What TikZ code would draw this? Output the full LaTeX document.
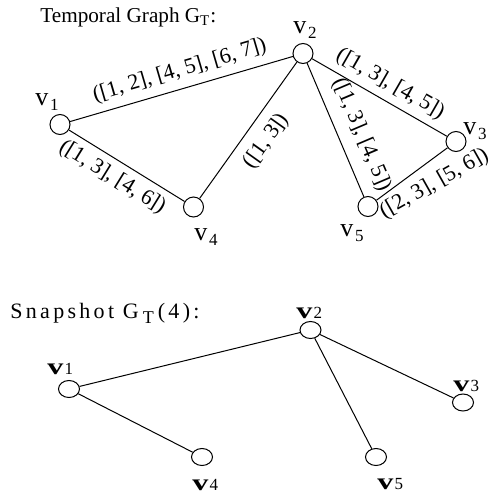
\documentclass[tikz,border=0pt]{standalone}
\usepackage{fontspec}
\setmainfont{Liberation Serif}
\usetikzlibrary{shapes.geometric,positioning}

% temporal vertex label: v with a lowered index
\newcommand{\tempv}[1]{v\kern0.8pt\raisebox{-2.5pt}{\fontsize{8.5}{9}\selectfont #1}}
% snapshot vertex label: wide bold v and a small index
\newcommand{\snapv}[1]{\scalebox{1.4}[1]{\bfseries v}\kern0.6pt{\fontsize{8.5}{9}\selectfont #1}}

\begin{document}
\begin{tikzpicture}[x=0.5pt, y=-0.5pt,
    vtx/.style={circle, draw, line width=0.5pt, minimum size=10pt, inner sep=0pt},
    snapvtx/.style={ellipse, draw, line width=0.5pt, minimum width=10.5pt, minimum height=8.5pt, inner sep=0pt},
    vlab/.style={font=\fontsize{13}{15}\selectfont, inner sep=0pt, anchor=base west},
    slab/.style={font=\fontsize{11.5}{13}\selectfont, inner sep=0pt, anchor=base west},
    ivl/.style={font=\fontsize{11}{13}\selectfont, inner sep=1pt},
    edge/.style={line width=0.5pt},
  ]

    \useasboundingbox (0,0) rectangle (492,493);

    % --- temporal graph (top) ---
    \node[slab, font=\fontsize{10.6}{13}\selectfont] (ttl) at (40,22.5) {Temporal Graph G\textsubscript{T}:};

    \node[vtx] (v1) at (60,124.5) {};
    \node[vtx] (v2) at (303,53.5) {};
    \node[vtx] (v3) at (456,141.5) {};
    \node[vtx] (v4) at (193.5,207) {};
    \node[vtx] (v5) at (368,206.5) {};

    \node[vlab] (l1) at (35,105) {\tempv{1}};
    \node[vlab] (l2) at (293,33) {\tempv{2}};
    \node[vlab] (l3) at (463,134) {\tempv{3}};
    \node[vlab] (l4) at (194,240) {\tempv{4}};
    \node[vlab] (l5) at (340,236) {\tempv{5}};

    \draw[edge] (v1) -- node[ivl, sloped, above=2.7pt, pos=.515] {([1, 2], [4, 5], [6, 7])} (v2);
    \draw[edge] (v2) -- node[ivl, sloped, above=2.3pt, pos=.517] {([1, 3], [4, 5])} (v3);
    \draw[edge] (v1) -- node[ivl, sloped, below=2.5pt, pos=.454] {([1, 3], [4, 6])} (v4);
    \draw[edge] (v2) -- node[ivl, sloped, below=4.5pt, pos=.49] {([1, 3])} (v4);
    \draw[edge] (v2) -- node[ivl, sloped, above=4.7pt, pos=.6] {([1, 3], [4, 5])} (v5);
    \draw[edge] (v5) -- node[ivl, sloped, rotate=-7, below=4.4pt, pos=.655] {([2, 3], [5, 6])} (v3);

    % --- snapshot at time 4 (bottom) ---
    \node[slab, font=\fontsize{11}{13}\selectfont\addfontfeatures{LetterSpace=15}] (sttl) at (10,318)
      {Snapshot G\kern2pt\raisebox{-2.5pt}{\fontsize{9}{10}\selectfont T}\kern2pt(4):};

    \node[snapvtx] (s1) at (69,389) {};
    \node[snapvtx] (s2) at (310.5,330) {};
    \node[snapvtx] (s3) at (463,402.5) {};
    \node[snapvtx] (s4) at (202,457) {};
    \node[snapvtx] (s5) at (376,457) {};

    \node[slab] (m1) at (47,374) {\snapv{1}};
    \node[slab] (m2) at (296,318) {\snapv{2}};
    \node[slab] (m3) at (453,391) {\snapv{3}};
    \node[slab] (m4) at (192,490) {\snapv{4}};
    \node[slab] (m5) at (377,489) {\snapv{5}};

    \draw[edge] (s1) -- (s2);
    \draw[edge] (s1) -- (s4);
    \draw[edge] (s2) -- (s3);
    \draw[edge] (s2) -- (s5);

  \end{tikzpicture}
\end{document}
